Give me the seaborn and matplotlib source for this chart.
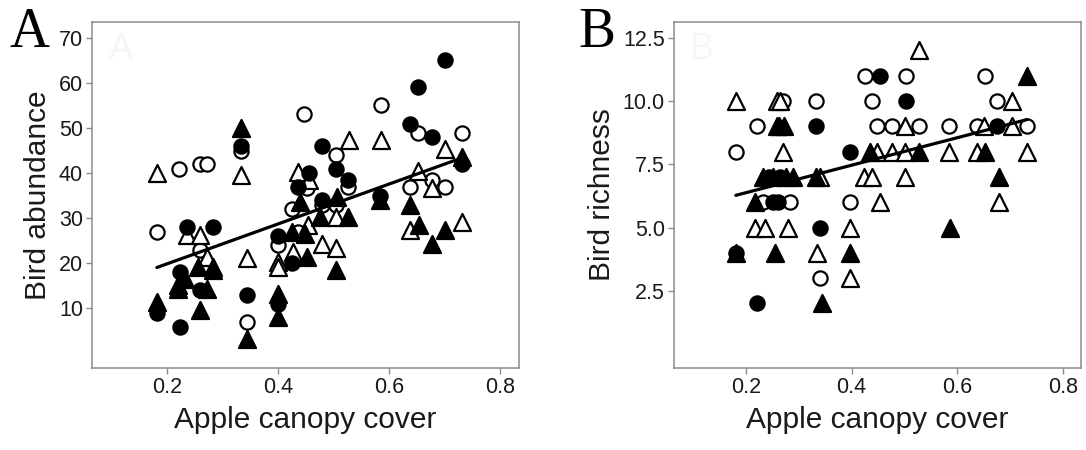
"""
Bird abundance / richness vs apple canopy cover, two panel scatter
with pooled linear fit. Saves out.png.
"""

import numpy as np
import pandas as pd
import matplotlib
matplotlib.use("Agg")
import matplotlib.pyplot as plt
import seaborn as sns

# ── Data ─────────────────────────────────────────────────────────────────────
# Panel A: bird abundance
a_fc_x = [0.701, 0.651, 0.638, 0.677, 0.478, 0.504, 0.732, 0.526, 0.456, 0.436, 0.333,
          0.235, 0.283, 0.222, 0.259, 0.181, 0.222, 0.343, 0.400, 0.424, 0.584, 0.478, 0.400]
a_fc_y = [65, 59, 51, 48, 46, 41, 42, 38.4, 40, 37, 46,
          28, 28, 18, 14, 9, 6, 13, 26, 20, 35, 34, 11]

a_ft_x = [0.333, 0.732, 0.439, 0.505, 0.584, 0.638, 0.475, 0.526, 0.424, 0.448, 0.452,
          0.504, 0.653, 0.701, 0.677, 0.256, 0.283, 0.232, 0.220, 0.271, 0.181, 0.259,
          0.343, 0.400, 0.400]
a_ft_y = [50, 43.5, 33.5, 34.7, 34, 33, 30.3, 30.3, 27, 26.6, 21.4,
          18.5, 28.5, 27.4, 24.4, 19.2, 18.5, 16.6, 14.4, 14.4, 11.5, 9.6,
          3.3, 13.3, 8.1]

a_oc_x = [0.221, 0.259, 0.271, 0.333, 0.447, 0.585, 0.651, 0.732, 0.504, 0.526, 0.677,
          0.701, 0.638, 0.181, 0.259, 0.343, 0.400, 0.424, 0.436, 0.478, 0.504, 0.451]
a_oc_y = [41, 42, 42, 45, 53, 55, 49, 49, 44, 37, 38.4,
          37, 37, 27, 23, 7, 24, 32, 27, 33, 33, 36.6]

a_ot_x = [0.182, 0.333, 0.436, 0.528, 0.585, 0.701, 0.651, 0.677, 0.456, 0.235, 0.259,
          0.271, 0.283, 0.220, 0.343, 0.400, 0.400, 0.427, 0.504, 0.454, 0.478, 0.504,
          0.638, 0.732]
a_ot_y = [40, 39.6, 40.3, 47.3, 47.3, 45.3, 40.5, 36.6, 38.4, 26.3, 26.3,
          21.4, 19.2, 15.2, 21.1, 20.3, 19.2, 22.5, 30.3, 28.5, 24.4, 23.3,
          27.4, 29.2]

# Panel B: bird richness
b_fc_x = [0.333, 0.397, 0.243, 0.265, 0.252, 0.261, 0.340, 0.181, 0.221, 0.454, 0.503, 0.675]
b_fc_y = [9, 8, 7, 7, 6, 6, 5, 4, 2, 11, 10, 9]

b_ft_x = [0.262, 0.272, 0.233, 0.252, 0.275, 0.290, 0.333, 0.217, 0.181, 0.255, 0.397,
          0.344, 0.732, 0.435, 0.527, 0.653, 0.678, 0.587]
b_ft_y = [9, 9, 7, 7, 7, 7, 7, 6, 4, 4, 4,
          2, 11, 8, 8, 8, 7, 5]

b_oc_x = [0.181, 0.221, 0.270, 0.333, 0.233, 0.284, 0.397, 0.340, 0.426, 0.503, 0.653,
          0.438, 0.675, 0.448, 0.476, 0.527, 0.584, 0.637, 0.732]
b_oc_y = [8, 9, 10, 10, 6, 6, 6, 3, 11, 11, 11,
          10, 10, 9, 9, 9, 9, 9, 9]

b_ot_x = [0.181, 0.258, 0.265, 0.258, 0.270, 0.340, 0.217, 0.236, 0.280, 0.397, 0.334,
          0.397, 0.527, 0.703, 0.501, 0.650, 0.703, 0.448, 0.476, 0.501, 0.584, 0.637,
          0.732, 0.423, 0.438, 0.501, 0.454, 0.678]
b_ot_y = [10, 10, 10, 9, 8, 7, 5, 5, 5, 5, 4,
          3, 12, 10, 9, 9, 9, 8, 8, 8, 8, 8,
          8, 7, 7, 7, 6, 6]

a_yticks = [10, 20, 30, 40, 50, 60, 70]
b_yticks = [2.5, 5.0, 7.5, 10.0, 12.5]
x_ticks = [0.2, 0.4, 0.6, 0.8]

SPINE = "#8c8c8c"
INK = "#1a1a1a"
SANS = ["Liberation Sans", "DejaVu Sans"]
SERIF = ["Liberation Serif", "DejaVu Serif"]


def _frame(df_parts):
    rows = []
    for kind, xs, ys in df_parts:
        rows.append(pd.DataFrame({"x": xs, "y": ys, "kind": kind}))
    return pd.concat(rows, ignore_index=True)


def _style(ax):
    for sp in ax.spines.values():
        sp.set_color(SPINE)
        sp.set_linewidth(1.1)
    ax.tick_params(axis="both", bottom=True, left=True, colors=SPINE, labelcolor=INK,
                   length=4.5, width=1.0, pad=2, labelsize=15.5)
    for lab in ax.get_xticklabels() + ax.get_yticklabels():
        lab.set_family(SANS)


def panel(ax, df, yticks, ylim, ylabel, letter, fmt):
    style = {
        "fc": dict(marker="o", s=105, facecolor="black", edgecolor="black"),
        "ft": dict(marker="^", s=150, facecolor="black", edgecolor="black"),
        "oc": dict(marker="o", s=105, facecolor="white", edgecolor="black"),
        "ot": dict(marker="^", s=150, facecolor="white", edgecolor="black"),
    }
    for kind in ["oc", "ot", "fc", "ft"]:
        sub = df[df["kind"] == kind]
        sns.scatterplot(data=sub, x="x", y="y", ax=ax, linewidth=1.6,
                        legend=False, zorder=3, **style[kind])
    sns.regplot(data=df, x="x", y="y", ax=ax, scatter=False, ci=None,
                color="black", line_kws={"lw": 2.3, "zorder": 4})
    ax.set_xlim(0.064, 0.834)
    ax.set_ylim(*ylim)
    ax.set_xticks(x_ticks)
    ax.set_xticklabels([f"{t:.1f}" for t in x_ticks])
    ax.set_yticks(yticks)
    ax.set_yticklabels([fmt.format(t) for t in yticks])
    ax.set_xlabel("Apple canopy cover", fontsize=21.5, family=SANS, color=INK, labelpad=6)
    ax.set_ylabel(ylabel, fontsize=21.5, family=SANS, color=INK, labelpad=5)
    _style(ax)
    # faint watermark letter inside the panel
    ax.text(0.04, 0.97, letter, transform=ax.transAxes, ha="left", va="top",
            fontsize=26, family=SANS, color="#f6f6f6", zorder=0)


sns.set_theme(style="white")
plt.rcParams["font.family"] = SANS

fig = plt.figure(figsize=(10.86, 4.5), dpi=100)
ax_a = fig.add_axes([0.0847, 0.1822, 0.3932, 0.7689])
ax_b = fig.add_axes([0.6206, 0.1822, 0.3748, 0.7689])

df_a = _frame([("fc", a_fc_x, a_fc_y), ("ft", a_ft_x, a_ft_y),
               ("oc", a_oc_x, a_oc_y), ("ot", a_ot_x, a_ot_y)])
df_b = _frame([("fc", b_fc_x, b_fc_y), ("ft", b_ft_x, b_ft_y),
               ("oc", b_oc_x, b_oc_y), ("ot", b_ot_x, b_ot_y)])

panel(ax_a, df_a, a_yticks, (-3.2, 73.5), "Bird abundance", "A", "{:.0f}")
panel(ax_b, df_b, b_yticks, (-0.55, 13.12), "Bird richness", "B", "{:.1f}")

fig.text(0.009, 0.985, "A", ha="left", va="top", fontsize=40, family=SERIF, color="black")
fig.text(0.533, 0.985, "B", ha="left", va="top", fontsize=40, family=SERIF, color="black")

fig.savefig("out.png", dpi=100, facecolor="white")
